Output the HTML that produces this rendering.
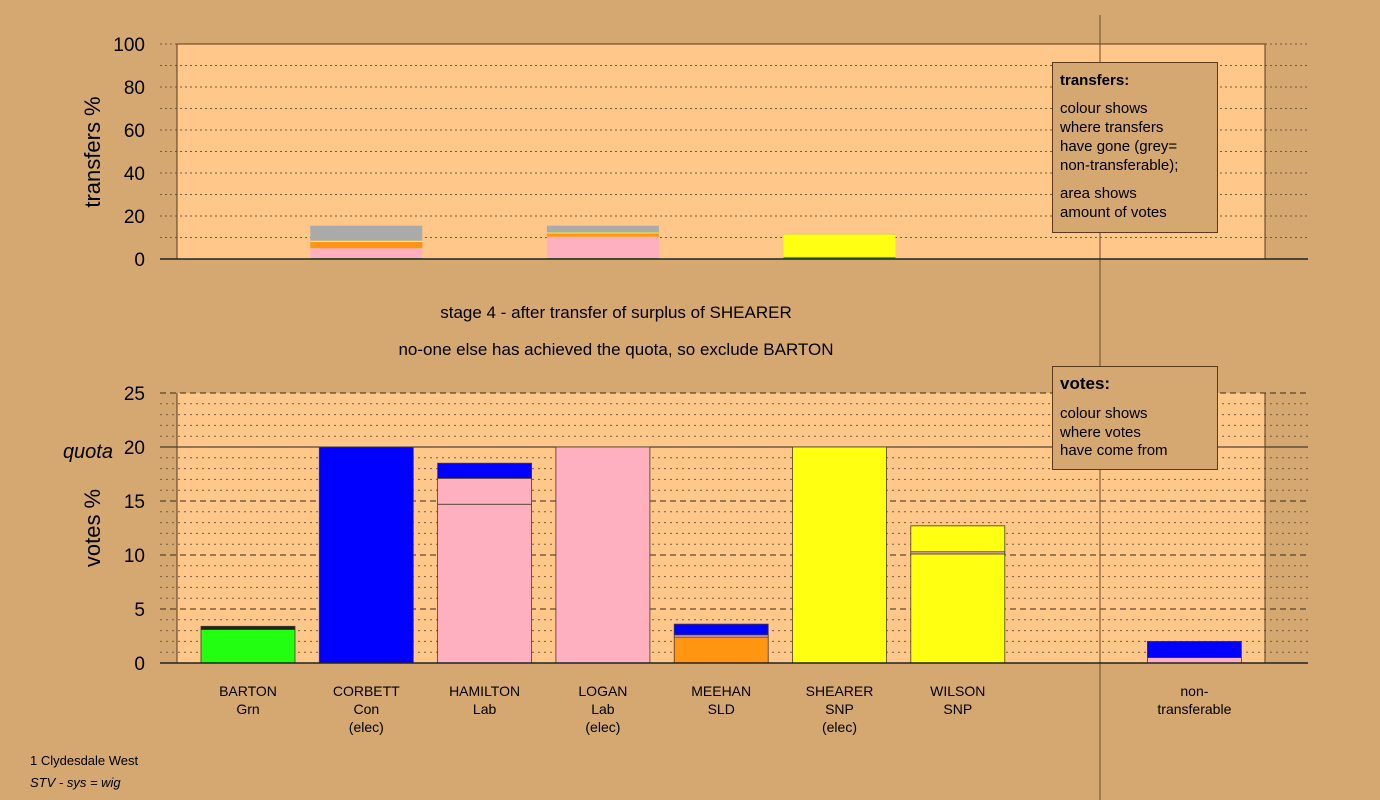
<!DOCTYPE html>
<html><head><meta charset="utf-8"><style>
html,body{margin:0;padding:0;background:#d4a870;}
svg{display:block;font-family:"Liberation Sans",Arial,sans-serif;}
</style></head><body>
<svg id="chart" width="1380" height="800" viewBox="0 0 1380 800" xmlns="http://www.w3.org/2000/svg">
<rect x="0" y="0" width="1380" height="800" fill="#d4a870"/>
<rect x="177" y="44" width="1088" height="215" fill="#ffc88a"/>
<rect x="177" y="393" width="1088" height="270" fill="#ffc88a"/>
<g id="g-grid"></g>
<g id="g-bars"></g>
<line x1="177" y1="44" x2="177" y2="259" stroke="#5a3a1a" stroke-width="1"/>
<line x1="1265" y1="44" x2="1265" y2="259" stroke="#5a3a1a" stroke-width="1"/>
<line x1="177" y1="44" x2="1265" y2="44" stroke="#5a3a1a" stroke-width="1"/>
<line x1="177" y1="393" x2="177" y2="663" stroke="#5a3a1a" stroke-width="1"/>
<line x1="1265" y1="393" x2="1265" y2="663" stroke="#5a3a1a" stroke-width="1"/>
<line x1="1100" y1="15" x2="1100" y2="800" stroke="#6a4a2a" stroke-width="1"/>
<g id="g-text"></g>
<text x="100" y="152" font-size="22" text-anchor="middle" transform="rotate(-90 100 152)">transfers %</text>
<text x="100" y="528" font-size="22" text-anchor="middle" transform="rotate(-90 100 528)">votes %</text>
<text x="616" y="318" font-size="17" text-anchor="middle">stage 4 - after transfer of surplus of SHEARER</text>
<text x="616" y="355" font-size="17" text-anchor="middle">no-one else has achieved the quota, so exclude BARTON</text>
<text x="113" y="458" font-size="20" font-style="italic" text-anchor="end">quota</text>
<g>
<rect x="1052.5" y="62.5" width="165" height="170" fill="#d4a870" stroke="#5a3a1a"/>
<text x="1060" y="85" font-size="15" font-weight="bold">transfers:</text>
<text x="1060" y="113" font-size="15">colour shows</text>
<text x="1060" y="132" font-size="15">where transfers</text>
<text x="1060" y="151" font-size="15">have gone (grey=</text>
<text x="1060" y="170" font-size="15">non-transferable);</text>
<text x="1060" y="198" font-size="15">area shows</text>
<text x="1060" y="217" font-size="15">amount of votes</text>
</g>
<g>
<rect x="1052.5" y="366.5" width="165" height="103" fill="#d4a870" stroke="#5a3a1a"/>
<text x="1060" y="389" font-size="17" font-weight="bold">votes:</text>
<text x="1060" y="418" font-size="15">colour shows</text>
<text x="1060" y="437" font-size="15">where votes</text>
<text x="1060" y="455" font-size="15">have come from</text>
</g>
<text x="30" y="765" font-size="13">1 Clydesdale West</text>
<text x="30" y="787" font-size="13" font-style="italic">STV - sys = wig</text>
</svg>
<script>
const candidates = ["BARTON","CORBETT","HAMILTON","LOGAN","MEEHAN","SHEARER","WILSON","","non-transferable"];
const parties = ["Grn","Con\n(elec)","Lab","Lab\n(elec)","SLD","SNP\n(elec)","SNP","",""];
const voteTicks = [0,5,10,15,20,25];
const transferTicks = [0,20,40,60,80,100];
const quota = 20;
// votes segments per candidate: [color, value]
const voteSegments = [
  [["#22ff11",3.1],["#222222",0.3]],
  [["#0000ff",20]],
  [["#ffb0c0",14.7],["#ffb0c0",2.4],["#0000ff",1.4]],
  [["#ffb0c0",20]],
  [["#ff9510",2.4],["#ffb0c0",0.2],["#0000ff",1.0]],
  [["#ffff11",20]],
  [["#ffff11",10.1],["#ffb0c0",0.2],["#ffff11",2.4]],
  [],
  [["#ffb0c0",0.5],["#0000ff",1.5]]
];
// transfer segments drawn in columns (by candidate index)
const transferSegments = [
  [],
  [["#22cc11",0.4],["#ffb0c0",4.6],["#ff9510",3.0],["#ffff11",0.5],["#aaaaaa",7.0]],
  [],
  [["#22cc11",0.4],["#ffb0c0",10.0],["#ff9510",1.5],["#ffff11",0.4],["#aaaaaa",3.2]],
  [],
  [["#22cc11",1.0],["#ffff11",10.5],["#aaaaaa",0.2]],
  [],[],[]
];
const NS="http://www.w3.org/2000/svg";
const xC = i => 248 + i*118.3;
const BW = 94;
const yV = v => 663 - v*10.8;
const yT = v => 259 - v*2.15;
function mk(tag, attrs, parent){const e=document.createElementNS(NS,tag);for(const k in attrs)e.setAttribute(k,attrs[k]);parent.appendChild(e);return e;}
const grid=document.getElementById("g-grid"), bars=document.getElementById("g-bars"), txt=document.getElementById("g-text");
// transfers grid
for(let v=10; v<=100; v+=10){
  const l=mk("line",{x1:160,x2:1308,y1:yT(v),y2:yT(v),stroke:"#7a5a3a","stroke-width":1,"stroke-dasharray":"2,3"},grid);
  
  
}
// votes grid
for(let v=1; v<=25; v++){
  let dash = v%5===0 ? "6,4" : "2,4";
  let col = v%5===0 ? "#3a2a1a" : "#7a5a3a";
  if(v===quota){dash="none";col="#222";}
  const l=mk("line",{x1:160,x2:1308,y1:yV(v),y2:yV(v),stroke:col,"stroke-width":1,"stroke-dasharray":dash},grid);
  
  
}
// tick labels
transferTicks.forEach(t=>{
  const e=mk("text",{x:145,y:yT(t)+7,"font-size":19,"text-anchor":"end"},txt);e.textContent=t;
  
  
});
voteTicks.forEach(t=>{
  const e=mk("text",{x:145,y:yV(t)+7,"font-size":19,"text-anchor":"end"},txt);e.textContent=t;
  
  
});
// transfer bars
transferSegments.forEach((segs,i)=>{
  let acc=0;
  segs.forEach(([c,v])=>{
    const r=mk("rect",{x:xC(i)-56,width:112,y:yT(acc+v),height:yT(acc)-yT(acc+v),fill:c},bars);
    
    
    acc+=v;
  });
});
// vote bars
voteSegments.forEach((segs,i)=>{
  let acc=0;
  segs.forEach(([c,v])=>{
    const r=mk("rect",{x:xC(i)-BW/2,width:BW,y:yV(acc+v),height:yV(acc)-yV(acc+v),fill:c,stroke:"#4a3a2a","stroke-width":0.8},bars);
    
    
    acc+=v;
  });
});
// axis baselines
[[yT(0),"transfers-x-axis"],[yV(0),"votes-x-axis"]].forEach(([y,n])=>{
  const l=mk("line",{x1:160,x2:1308,y1:y,y2:y,stroke:"#222","stroke-width":1.5},grid.parentNode);
  
  
});
// category labels
candidates.forEach((c,i)=>{
  if(!c) return;
  const lines = c==="non-transferable" ? ["non-","transferable"] : [c].concat(parties[i].split("\n"));
  lines.forEach((s,k)=>{
    const e=mk("text",{x:xC(i),y:696+k*18,"font-size":14,"text-anchor":"middle"},txt);e.textContent=s;
    
    
  });
});
</script>
</body></html>
